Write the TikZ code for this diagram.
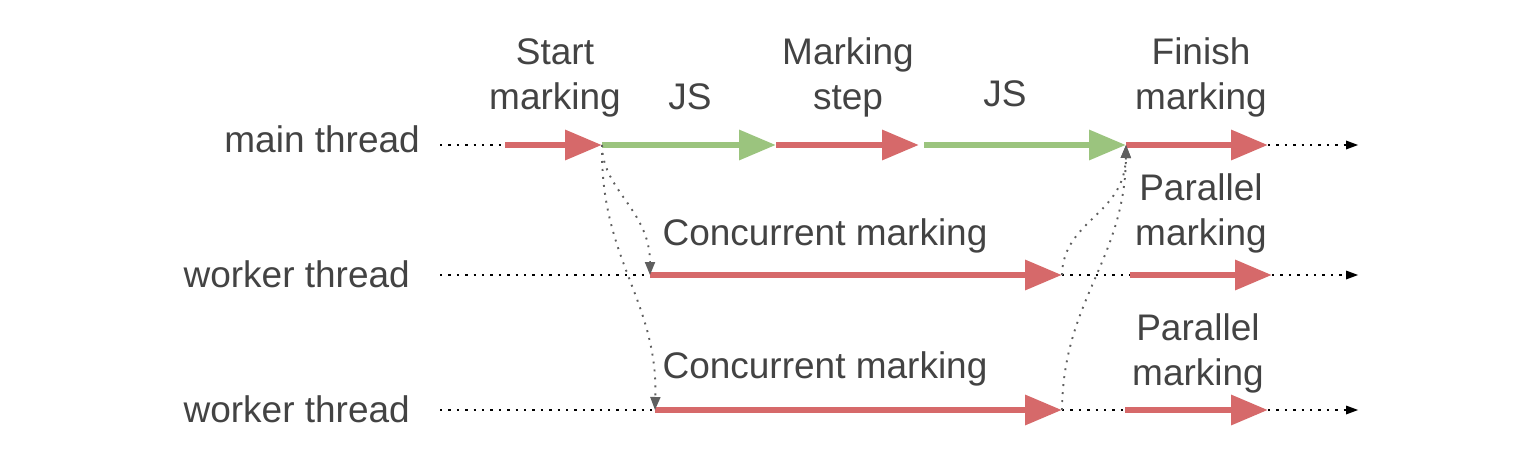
\documentclass[tikz,border=0pt]{standalone}
\usepackage{fontspec}
\setmainfont{Liberation Sans}
\usetikzlibrary{arrows.meta}
\definecolor{tred}{HTML}{D6696A}
\definecolor{tgreen}{HTML}{9BC47E}
\definecolor{ttext}{HTML}{434343}
\definecolor{tgray}{HTML}{5F5F5F}
\tikzset{
  lbl/.style={inner sep=0pt, anchor=base, text=ttext, font=\fontsize{37}{44}\selectfont},
  rlbl/.style={lbl, anchor=base east},
  redseg/.style={draw=tred, line width=6.5pt, -{Triangle[length=37pt,width=29pt]}},
  greenseg/.style={draw=tgreen, line width=6.5pt, -{Triangle[length=37pt,width=29pt]}},
  dots/.style={draw=black, line width=2.4pt, dash pattern=on 2.4pt off 6pt},
  dotsend/.style={dots, -{Triangle[length=12pt,width=9pt,line width=0pt]}},
  sync/.style={draw=tgray, line width=1.9pt, dash pattern=on 1.9pt off 6.1pt, -{Triangle[length=13pt,width=10pt]}}
}
\begin{document}
\begin{tikzpicture}[x=1pt,y=-1pt]
\useasboundingbox (0,0) rectangle (1528,468);
% labels
\node[rlbl] (lmain) at (420,153) {main thread};
\node[rlbl] (lw1) at (410,287) {worker thread};
\node[rlbl] (lw2) at (410,422) {worker thread};
\node[lbl] (st1) at (555,65) {Start};
\node[lbl] (st2) at (555,110) {marking};
\node[lbl] (js1) at (690,110) {JS};
\node[lbl] (ms1) at (848,65) {Marking};
\node[lbl] (ms2) at (848,110) {step};
\node[lbl] (js2) at (1005,107) {JS};
\node[lbl] (fm1) at (1201,65) {Finish};
\node[lbl] (fm2) at (1201,110) {marking};
\node[lbl] (cm1) at (825,245) {Concurrent marking};
\node[lbl] (cm2) at (825,378) {Concurrent marking};
\node[lbl] (pm1) at (1201,200) {Parallel};
\node[lbl] (pm2) at (1201,245) {marking};
\node[lbl] (pm3) at (1198,340) {Parallel};
\node[lbl] (pm4) at (1198,385) {marking};
% main thread points
\coordinate (m0) at (440,145);
\coordinate (m1) at (505,145);
\coordinate (m2) at (602,145);
\coordinate (m3) at (776,145);
\coordinate (m4) at (919,145);
\coordinate (m5) at (924,145);
\coordinate (m6) at (1126,145);
\coordinate (m7) at (1268,145);
\coordinate (m8) at (1358,145);
% worker 1
\coordinate (a0) at (440,275);
\coordinate (a1) at (650,275);
\coordinate (a2) at (1062,275);
\coordinate (a3) at (1130,275);
\coordinate (a4) at (1272,275);
\coordinate (a5) at (1358,275);
% worker 2
\coordinate (b0) at (440,410);
\coordinate (b1) at (655,410);
\coordinate (b2) at (1062,410);
\coordinate (b3) at (1125,410);
\coordinate (b4) at (1268,410);
\coordinate (b5) at (1358,410);
% main thread
\draw[dots] (m0) -- (m1);
\draw[redseg] (m1) -- (m2);
\draw[greenseg] (m2) -- (m3);
\draw[redseg] (m3) -- (m4);
\draw[greenseg] (m5) -- (m6);
\draw[redseg] (m6) -- (m7);
\draw[dotsend] (m7) -- (m8);
% worker 1
\draw[dots] (a0) -- (a1);
\draw[redseg] (a1) -- (a2);
\draw[dots] (a2) -- (a3);
\draw[redseg] (a3) -- (a4);
\draw[dotsend] (a4) -- (a5);
% worker 2
\draw[dots] (b0) -- (b1);
\draw[redseg] (b1) -- (b2);
\draw[dots] (b2) -- (b3);
\draw[redseg] (b3) -- (b4);
\draw[dotsend] (b4) -- (b5);
% sync curves
\draw[sync] (m2) .. controls (602,190) and (650,210) .. (a1);
\draw[sync] (m2) .. controls (600,260) and (658,300) .. (b1);
\draw[sync] (a2) .. controls (1063,220) and (1125,215) .. (m6);
\draw[sync] (b2) .. controls (1063,300) and (1125,260) .. (m6);
\end{tikzpicture}
\end{document}
